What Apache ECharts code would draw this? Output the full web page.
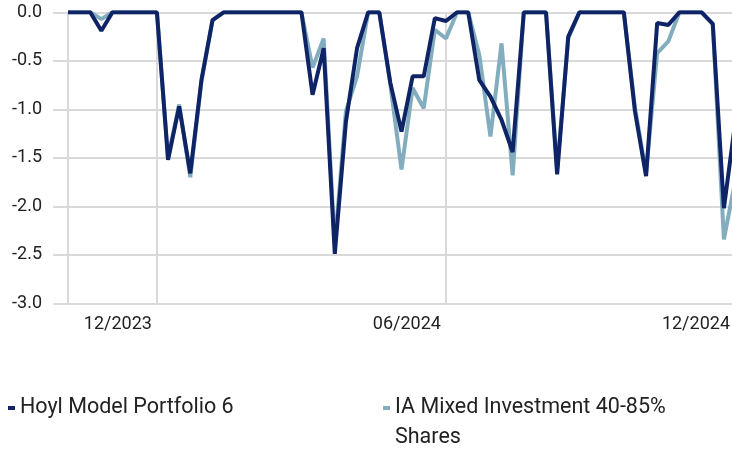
<!DOCTYPE html>
<html><head><meta charset="utf-8">
<script src="https://cdn.jsdelivr.net/npm/echarts@6/dist/echarts.min.js"></script>
<style>html,body{margin:0;padding:0;background:#fff}#c{width:732px;height:451px}</style>
</head><body><div id="c"></div>
<script>
const dates = [
 '2023-10-20','2023-10-27','2023-11-03','2023-11-10','2023-11-17','2023-11-24','2023-12-01','2023-12-08','2023-12-15','2023-12-22',
 '2023-12-29','2024-01-05','2024-01-12','2024-01-19','2024-01-26','2024-02-02','2024-02-09','2024-02-16','2024-02-23','2024-03-01',
 '2024-03-08','2024-03-15','2024-03-22','2024-03-29','2024-04-05','2024-04-12','2024-04-19','2024-04-26','2024-05-03','2024-05-10',
 '2024-05-17','2024-05-24','2024-05-31','2024-06-07','2024-06-14','2024-06-21','2024-06-28','2024-07-05','2024-07-12','2024-07-19',
 '2024-07-26','2024-08-02','2024-08-09','2024-08-16','2024-08-23','2024-08-30','2024-09-06','2024-09-13','2024-09-20','2024-09-27',
 '2024-10-04','2024-10-11','2024-10-18','2024-10-25','2024-11-01','2024-11-08','2024-11-15','2024-11-22','2024-11-29','2024-12-06',
 '2024-12-13'
];
const hoyl = [
 0, 0, 0, -0.19, 0, 0, 0, 0, 0, -1.52,
 -0.97, -1.66, -0.70, -0.08, 0, 0, 0, 0, 0, 0,
 0, 0, -0.85, -0.37, -2.49, -1.13, -0.37, 0, 0, -0.73,
 -1.23, -0.66, -0.66, -0.06, -0.09, 0, 0, -0.70, -0.87, -1.11,
 -1.44, 0, 0, 0, -1.67, -0.25, 0, 0, 0, 0,
 0, -1.02, -1.69, -0.11, -0.13, 0, 0, 0, -0.12, -2.02,
 -1.15
];
const iaMixed = [
 0, 0, 0, -0.07, 0, 0, 0, 0, 0, -1.50,
 -0.95, -1.70, -0.72, -0.08, 0, 0, 0, 0, 0, 0,
 0, 0, -0.57, -0.27, -2.40, -1.02, -0.66, 0, 0, -0.75,
 -1.62, -0.78, -0.99, -0.18, -0.27, 0, 0, -0.44, -1.28, -0.32,
 -1.68, 0, 0, 0, -1.62, -0.27, 0, 0, 0, 0,
 0, -0.98, -1.66, -0.42, -0.30, 0, 0, 0, -0.12, -2.34,
 -1.75
];
const tickDates = ['2023-12-15', '2024-06-14', '2024-12-13'];
const tickLabels = ['12/2023', '06/2024', '12/2024'];
const seriesNames = ['Hoyl Model Portfolio 6', 'IA Mixed Investment 40-85% Shares'];
const colors = ['#0f2466', '#82adbf'];

const grid = '#d9d9d9';
const textColor = '#222';
const font = 'Roboto';
const isTick = (i, v) => i === 0 || tickDates.indexOf(v) >= 0;

const chart = echarts.init(document.getElementById('c'), null, {renderer: 'canvas'});
chart.setOption({
  animation: false,
  backgroundColor: '#fff',
  grid: {left: 68, width: 667, top: 12.3, height: 291, containLabel: false, outerBoundsMode: 'none'},
  xAxis: {
    type: 'category', data: dates, boundaryGap: false,
    axisLine: {show: false},
    axisTick: {show: true, interval: isTick, length: 12, lineStyle: {color: grid, width: 2}},
    splitLine: {show: true, interval: isTick, lineStyle: {color: grid, width: 2}},
    axisLabel: {
      interval: (i, v) => tickDates.indexOf(v) >= 0,
      formatter: v => tickLabels[tickDates.indexOf(v)],
      align: 'right', padding: [0, 5, 0, 0], margin: 12,
      fontSize: 18, color: textColor, fontFamily: font
    }
  },
  yAxis: {
    type: 'value', min: -3, max: 0, interval: 0.5,
    axisLine: {show: false},
    axisTick: {show: true, length: 15, lineStyle: {color: grid, width: 2}},
    splitLine: {show: true, lineStyle: {color: grid, width: 2}},
    axisLabel: {margin: 26, formatter: v => v.toFixed(1), fontSize: 18, color: textColor, fontFamily: font}
  },
  legend: [
    {data: [seriesNames[0]], left: 8, top: 393, padding: 0, icon: 'rect', itemWidth: 7, itemHeight: 4,
     textStyle: {fontSize: 21.5, lineHeight: 30, color: textColor, fontFamily: font}},
    {data: [seriesNames[1]], left: 383, top: 363, padding: 0, icon: 'rect', itemWidth: 7, itemHeight: 4,
     formatter: n => '\n' + n.replace(' Shares', '\nShares'),
     textStyle: {fontSize: 21.5, lineHeight: 30, color: textColor, fontFamily: font}}
  ],
  series: [
    {name: seriesNames[1], type: 'line', data: iaMixed, symbol: 'none', z: 2,
     itemStyle: {color: colors[1]}, lineStyle: {color: colors[1], width: 4}},
    {name: seriesNames[0], type: 'line', data: hoyl, symbol: 'none', z: 3,
     itemStyle: {color: colors[0]}, lineStyle: {color: colors[0], width: 4}}
  ]
});
</script>
</body></html>
